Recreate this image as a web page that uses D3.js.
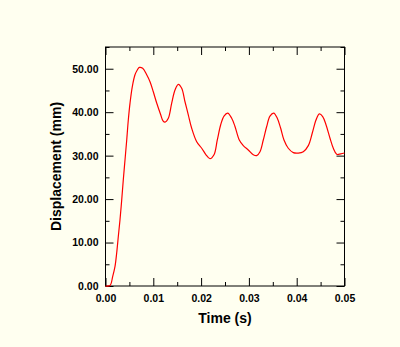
<!DOCTYPE html>
<html>
<head>
<meta charset="utf-8">
<script src="https://cdn.jsdelivr.net/npm/d3@7"></script>
<style>
  html, body { margin: 0; padding: 0; background: #fffff0; }
  svg { display: block; }
</style>
</head>
<body>
<div id="chart"></div>
<script>
// ---- data ----
const timeS = [0, 0.00094, 0.00151, 0.00199, 0.00234, 0.00268, 0.00303, 0.00339, 0.00372, 0.00408,
  0.00444, 0.00477, 0.00513, 0.00561, 0.00617, 0.00665, 0.00707, 0.00778, 0.00862, 0.00931,
  0.0100, 0.01071, 0.01155, 0.01203, 0.01245, 0.01314, 0.01385, 0.01454, 0.01523, 0.01594,
  0.01663, 0.01732, 0.01803, 0.01908, 0.02013, 0.02103, 0.02186, 0.02270, 0.02339, 0.02410,
  0.02479, 0.02556, 0.02640, 0.02709, 0.02799, 0.02883, 0.02987, 0.03092, 0.03163, 0.03232,
  0.03301, 0.03372, 0.03441, 0.03519, 0.03594, 0.03665, 0.03734, 0.03824, 0.03929, 0.04033,
  0.04138, 0.04243, 0.04326, 0.04404, 0.04473, 0.04544, 0.04613, 0.04697, 0.04766, 0.04837,
  0.04921, 0.0500];
const displacementMm = [0, 0.1, 2.2, 4.5, 7.6, 11.4, 15.2, 19.8, 24.4, 29,
  33.6, 38.2, 42.1, 45.9, 48.6, 49.7, 50.3, 50.1, 48.6, 47,
  44.7, 42.1, 39.4, 38, 37.7, 38.6, 42.1, 45.1, 46.4, 45.5,
  42.4, 39.4, 36.3, 33.2, 31.7, 30.2, 29.3, 30.2, 33.6, 37.1,
  39.1, 39.8, 38.6, 36.7, 33.6, 32.3, 31.3, 30.2, 30.0, 30.9,
  33.6, 36.7, 39.1, 39.8, 38.6, 36.3, 33.6, 31.7, 30.7, 30.6,
  30.9, 32.3, 35.2, 38.2, 39.6, 39, 37.1, 34, 31.7, 30.3,
  30.4, 30.6];
const xMajorTicks = [0, 0.01, 0.02, 0.03, 0.04, 0.05];
const xMinorTicks = [0.005, 0.015, 0.025, 0.035, 0.045];
const yMajorTicks = [0, 10, 20, 30, 40, 50];
const yMinorTicks = [5, 15, 25, 35, 45, 55];
const xTitle = "Time (s)";
const yTitle = "Displacement (mm)";

// ---- layout ----
const W = 400, H = 347;
const m = { left: 105.5, top: 47, width: 239, height: 239 };

const svg = d3.select("#chart").append("svg")
  .attr("width", W).attr("height", H);
svg.append("rect").attr("width", W).attr("height", H).attr("fill", "#fffff0");

const x = d3.scaleLinear().domain([0, 0.05]).range([0, m.width]);
const y = d3.scaleLinear().domain([0, 55]).range([m.height, 0]);

const g = svg.append("g").attr("transform", `translate(${m.left},${m.top})`);

const font = "'Liberation Sans', Arial, Helvetica, sans-serif";
const fmt = d3.format(".2f");

function styleAxis(sel) {
  sel.select(".domain").remove();
  sel.selectAll(".tick line").attr("stroke", "#000").attr("stroke-width", 1);
  sel.selectAll(".tick text")
    .attr("fill", "#000")
    .style("font-family", font)
    .style("font-weight", "bold")
    .style("font-size", "10.5px");
}

// bottom
g.append("g").attr("transform", `translate(0,${m.height})`)
  .call(d3.axisBottom(x).tickValues(xMajorTicks).tickSize(-8).tickPadding(9).tickFormat(fmt))
  .call(styleAxis);
g.append("g").attr("transform", `translate(0,${m.height})`)
  .call(d3.axisBottom(x).tickValues(xMinorTicks).tickSize(-4).tickFormat(""))
  .call(styleAxis);
// top
g.append("g")
  .call(d3.axisTop(x).tickValues(xMajorTicks).tickSize(-8).tickFormat(""))
  .call(styleAxis);
g.append("g")
  .call(d3.axisTop(x).tickValues(xMinorTicks).tickSize(-4).tickFormat(""))
  .call(styleAxis);
// left
g.append("g")
  .call(d3.axisLeft(y).tickValues(yMajorTicks).tickSize(-8).tickPadding(7).tickFormat(fmt))
  .call(styleAxis);
g.append("g")
  .call(d3.axisLeft(y).tickValues(yMinorTicks).tickSize(-4).tickFormat(""))
  .call(styleAxis);
// right
g.append("g").attr("transform", `translate(${m.width},0)`)
  .call(d3.axisRight(y).tickValues(yMajorTicks).tickSize(-8).tickFormat(""))
  .call(styleAxis);
g.append("g").attr("transform", `translate(${m.width},0)`)
  .call(d3.axisRight(y).tickValues(yMinorTicks).tickSize(-4).tickFormat(""))
  .call(styleAxis);

// frame
g.append("rect").attr("width", m.width).attr("height", m.height)
  .attr("fill", "none").attr("stroke", "#000").attr("stroke-width", 1);

// curve
const pts = timeS.map((t, i) => [t, displacementMm[i]]);
g.append("path").datum(pts)
  .attr("fill", "none").attr("stroke", "#ff0000").attr("stroke-width", 1.2)
  .attr("d", d3.line().x(d => x(d[0])).y(d => y(d[1])).curve(d3.curveCatmullRom.alpha(0.5)));

// titles
svg.append("text")
  .attr("x", m.left + m.width / 2).attr("y", 323)
  .attr("text-anchor", "middle")
  .style("font-family", font).style("font-weight", "bold").style("font-size", "14px")
  .text(xTitle);
svg.append("text")
  .attr("transform", `translate(61,${m.top + m.height / 2}) rotate(-90)`)
  .attr("text-anchor", "middle")
  .style("font-family", font).style("font-weight", "bold").style("font-size", "14px")
  .text(yTitle);
</script>
</body>
</html>
